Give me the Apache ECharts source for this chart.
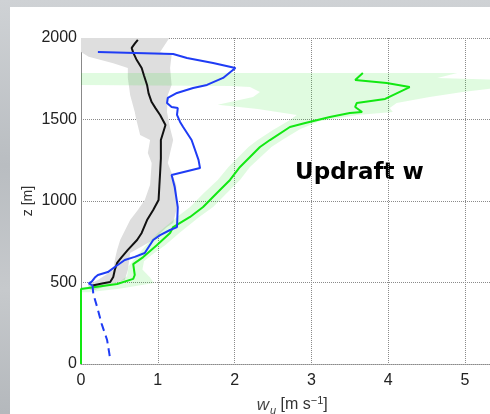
<!DOCTYPE html>
<html>
<head>
<meta charset="utf-8">
<script src="https://cdn.jsdelivr.net/npm/echarts@6/dist/echarts.min.js"></script>
<style>
  html, body { margin: 0; padding: 0; }
  body {
    width: 490px; height: 414px; overflow: hidden; position: relative;
    background: linear-gradient(180deg, #cfd2d5 0%, #b9bdc1 40%, #c6c9cc 70%, #b4b8bc 100%);
  }
  #paper { position: absolute; left: 10px; top: 7px; right: 0; bottom: 0; background: #ffffff; }
  #chart { position: absolute; left: 0; top: 0; width: 490px; height: 414px; }
</style>
</head>
<body>
<div id="paper"></div>
<div id="chart"></div>
<script>
// Vertical profiles of updraft velocity w_u [m s^-1] against height z [m]
const xTicks = [0, 1, 2, 3, 4, 5];
const zTicks = [0, 500, 1000, 1500, 2000];

// mean profile (black) and its spread (grey)
const meanProfile = [[0.15,482],[0.29,495],[0.38,503],[0.42,534],[0.44,577],[0.47,620],[0.53,656],[0.61,700],[0.73,761],[0.79,804],[0.86,883],[0.94,945],[1.01,1006],[1.02,1090],[1.03,1172],[1.04,1260],[1.04,1374],[1.07,1420],[1.10,1466],[1.03,1528],[0.97,1570],[0.92,1607],[0.88,1660],[0.86,1712],[0.82,1770],[0.79,1816],[0.72,1870],[0.68,1910],[0.66,1939],[0.70,1965],[0.74,1988]];
const meanSpreadLeft = [[0.12,455],[0.09,485],[0.22,515],[0.42,577],[0.44,638],[0.47,700],[0.51,761],[0.64,883],[0.74,945],[0.83,1006],[0.90,1100],[0.92,1233],[0.87,1294],[0.90,1374],[0.77,1405],[0.72,1500],[0.70,1546],[0.64,1650],[0.61,1755],[0.61,1816],[0.42,1845],[0.10,1885],[0,1914],[0,2000]];
const meanSpreadRight = [[0.18,454],[0.44,497],[0.57,515],[0.61,577],[0.64,681],[0.94,761],[1.12,840],[1.20,865],[1.25,963],[1.24,1100],[1.13,1233],[1.16,1294],[1.20,1374],[1.16,1448],[1.12,1546],[1.13,1650],[1.18,1712],[1.16,1816],[1.18,1896],[1.03,1914],[1.15,2000]];

// second profile (blue): above and below cloud base
const profileAbove = [[0.15,482],[0.10,495],[0.14,505],[0.18,530],[0.22,546],[0.35,564],[0.44,595],[0.57,638],[0.70,657],[0.83,681],[0.94,761],[1.03,791],[1.16,822],[1.25,840],[1.26,963],[1.22,1086],[1.18,1160],[1.55,1202],[1.53,1252],[1.44,1374],[1.33,1454],[1.29,1485],[1.25,1528],[1.26,1570],[1.18,1577],[1.12,1601],[1.13,1632],[1.25,1663],[1.46,1693],[1.64,1712],[1.85,1755],[2.01,1816],[1.72,1847],[1.38,1877],[1.20,1902],[0.22,1914]];
const profileBelow = [[0.15,482],[0.16,430],[0.21,350],[0.27,245],[0.34,147],[0.37,61],[0.38,25]];

// third profile (green) and its spread
const updraftProfile = [[0,0],[0,460],[0.47,491],[0.68,522],[0.70,546],[0.68,613],[0.81,656],[0.99,730],[1.16,804],[1.20,840],[1.42,902],[1.59,963],[1.77,1049],[1.94,1129],[2.07,1209],[2.20,1270],[2.33,1331],[2.46,1374],[2.72,1454],[2.92,1478],[3.24,1515],[3.50,1540],[3.66,1546],[3.57,1577],[3.59,1601],[3.96,1626],[4.28,1699],[3.98,1724],[3.57,1742],[3.67,1785]];
const updraftSpreadLeft = [[0,440],[0,470],[0.30,490],[0.50,505],[0.60,540],[0.62,600],[0.72,660],[0.85,730],[1.00,804],[1.25,902],[1.42,963],[1.60,1049],[1.78,1129],[1.92,1209],[2.05,1270],[2.18,1331],[2.30,1374],[2.50,1436],[2.72,1497],[2.81,1527],[2.30,1565],[1.78,1590],[2.24,1638],[2.33,1669],[2.20,1699],[1.94,1706],[0,1712],[0,1785]];
const updraftSpreadRight = [[0.10,440],[0.50,462],[0.95,497],[0.90,530],[0.80,580],[0.82,630],[0.95,680],[1.10,730],[1.28,804],[1.54,902],[1.72,963],[1.90,1049],[2.07,1129],[2.20,1209],[2.34,1270],[2.48,1331],[2.62,1374],[2.85,1440],[3.10,1490],[3.60,1527],[4.06,1546],[4.02,1570],[4.11,1601],[4.54,1638],[4.97,1669],[5.50,1699],[5.50,1742],[4.64,1755],[4.90,1785]];

function bandSeries(left, right, color) {
  const outline = left.concat(right.slice().reverse());
  return {
    type: 'custom',
    silent: true,
    data: [[0, 0]],
    renderItem: function (params, api) {
      return {
        type: 'polygon',
        shape: { points: outline.map(p => api.coord(p)) },
        style: { fill: color }
      };
    },
    clip: true
  };
}

function profileSeries(data, color, dash) {
  return {
    type: 'line',
    data: data,
    showSymbol: false,
    silent: true,
    lineStyle: { color: color, width: 2, type: dash || 'solid' }
  };
}

const chart = echarts.init(document.getElementById('chart'), null, { renderer: 'canvas' });
const dotted = { type: 'dotted', color: '#8a8a8a', width: 1 };
const sans = 'Liberation Sans, Arial, sans-serif';
chart.setOption({
  animation: false,
  backgroundColor: 'transparent',
  grid: { left: 81, top: 38, width: 422.4, height: 326, outerBoundsMode: 'none', containLabel: false },
  xAxis: {
    type: 'value', min: 0, max: 5.5, interval: 1,
    axisLine: { show: true, lineStyle: dotted },
    axisTick: { show: false },
    splitLine: { show: true, lineStyle: dotted },
    axisLabel: {
      margin: 9, color: '#222', fontSize: 16, fontFamily: sans,
      formatter: v => (xTicks.includes(v) ? String(v) : '')
    },
    name: '{w|w}{u|u}{n| [m s}{p|−1}{n|]}',
    nameLocation: 'middle', nameGap: 30, nameMoveOverlap: false,
    nameTextStyle: {
      color: '#333',
      rich: {
        w: { fontSize: 17, fontStyle: 'italic', fontFamily: sans, color: '#444' },
        u: { fontSize: 11, fontStyle: 'italic', fontFamily: sans, color: '#444', padding: [11, 0, 0, 1] },
        n: { fontSize: 16, fontFamily: sans, color: '#333' },
        p: { fontSize: 11, fontFamily: sans, color: '#333', padding: [0, 0, 9, 0] }
      }
    }
  },
  yAxis: {
    type: 'value', min: 0, max: 2000, interval: 500,
    axisLine: { show: true, lineStyle: dotted },
    axisTick: { show: false },
    splitLine: { show: true, lineStyle: dotted },
    axisLabel: {
      margin: 4, color: '#222', fontSize: 16, fontFamily: sans,
      formatter: v => (zTicks.includes(v) ? String(v) : '')
    },
    name: 'z [m]', nameLocation: 'middle', nameGap: 46, nameRotate: 90, nameMoveOverlap: false,
    nameTextStyle: { color: '#333', fontSize: 14, fontFamily: sans }
  },
  graphic: [{
    type: 'text', left: 295, top: 162, silent: true,
    style: { text: 'Updraft w', fill: '#000', font: 'bold 23px "DejaVu Sans", sans-serif' }
  }],
  series: [
    bandSeries(meanSpreadLeft, meanSpreadRight, '#dedede'),
    bandSeries(updraftSpreadLeft, updraftSpreadRight, 'rgba(0, 220, 0, 0.12)'),
    profileSeries(updraftProfile, '#12e812'),
    profileSeries(meanProfile, '#111111'),
    profileSeries(profileAbove, '#1f3cf5'),
    profileSeries(profileBelow, '#1f3cf5', [8, 5])
  ]
});
</script>
</body>
</html>
